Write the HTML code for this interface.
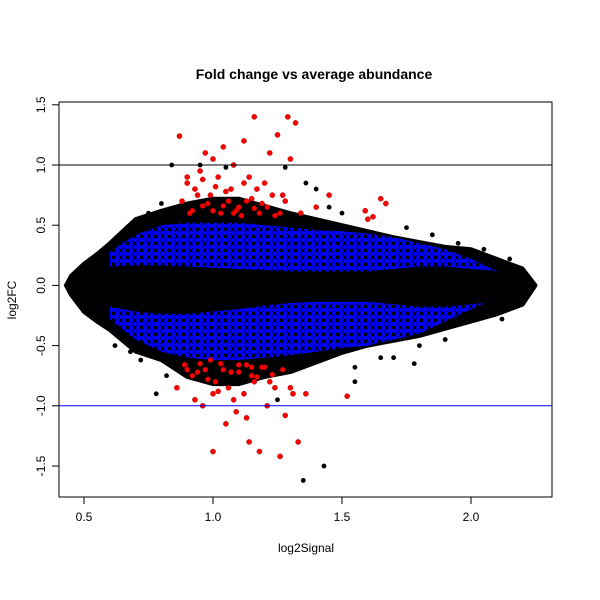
<!DOCTYPE html>
<html><head><meta charset="utf-8"><style>
body{margin:0;background:#fff}
svg{display:block;font-family:"Liberation Sans",sans-serif}
</style></head><body>
<svg id="chart" width="600" height="600" viewBox="0 0 600 600">
<defs>
<pattern id="bluedots" width="7" height="7" patternUnits="userSpaceOnUse">
<rect width="7" height="7" fill="#000"/>
<circle cx="1.8" cy="1.8" r="2.3" fill="#0000ff"/>
<circle cx="5.3" cy="5.3" r="2.3" fill="#0000ff"/>
<circle cx="5.3" cy="1.5" r="1.6" fill="#0000ff"/>
</pattern>
</defs>
<text x="314" y="79" text-anchor="middle" font-size="14" font-weight="bold">Fold change vs average abundance</text>
<text x="306" y="552" text-anchor="middle" font-size="12">log2Signal</text>
<text transform="translate(16,300) rotate(-90)" text-anchor="middle" font-size="12">log2FC</text>
<g id="plot"></g>
<g id="axes"></g>
</svg>
<script>
const envX=[0.43,0.45,0.5,0.55,0.6,0.7,0.8,0.9,1.0,1.1,1.2,1.3,1.4,1.5,1.6,1.7,1.8,1.9,2.0,2.1,2.2,2.25];
const envUp=[0.0,0.08,0.18,0.26,0.35,0.55,0.62,0.68,0.72,0.72,0.66,0.6,0.55,0.5,0.45,0.4,0.36,0.32,0.3,0.22,0.14,0.0];
const envLo=[0.0,-0.08,-0.22,-0.3,-0.37,-0.55,-0.62,-0.76,-0.82,-0.82,-0.76,-0.72,-0.64,-0.56,-0.5,-0.46,-0.42,-0.36,-0.3,-0.24,-0.16,0.0];
const blueX=[0.6,0.7,0.8,0.9,1.0,1.1,1.2,1.3,1.4,1.5,1.6,1.7,1.8,1.9,2.0,2.1];
const blueUp=[0.28,0.42,0.5,0.52,0.52,0.52,0.5,0.48,0.46,0.45,0.43,0.4,0.35,0.3,0.22,0.12];
const blueLo=[-0.28,-0.45,-0.55,-0.6,-0.62,-0.62,-0.6,-0.58,-0.55,-0.52,-0.5,-0.45,-0.4,-0.3,-0.2,-0.1];
const coreX=[0.5,0.6,0.7,0.8,0.9,1.0,1.1,1.2,1.3,1.4,1.5,1.6,1.7,1.8,1.9,2.0,2.1,2.2];
const coreUp=[0.1,0.14,0.15,0.15,0.14,0.13,0.12,0.11,0.1,0.1,0.1,0.1,0.12,0.14,0.14,0.12,0.1,0.08];
const coreLo=[-0.1,-0.16,-0.2,-0.22,-0.22,-0.2,-0.18,-0.15,-0.13,-0.12,-0.12,-0.12,-0.14,-0.16,-0.16,-0.14,-0.12,-0.08];
const redX=[0.87,0.9,0.93,0.95,0.97,0.99,1.0,1.02,1.04,1.06,1.08,1.1,1.12,1.14,1.16,1.18,1.2,1.22,1.25,1.27,1.29,1.3,1.32,0.92,0.98,1.03,1.07,1.11,1.15,1.21,1.26,1.59,1.62,1.65,1.67,1.6,
 0.88,0.91,0.94,0.96,1.01,1.05,1.09,1.13,1.17,1.19,1.23,0.9,0.96,1.0,1.04,1.08,1.12,1.16,1.24,1.28,1.34,1.4,1.45,
 0.86,0.9,0.93,0.96,0.98,1.0,1.02,1.05,1.07,1.09,1.12,1.14,1.16,1.18,1.21,1.24,1.26,1.28,1.31,1.33,0.95,0.99,1.04,1.1,1.15,1.2,1.27,1.36,1.52,1.13,
 0.89,0.92,0.97,1.01,1.03,1.06,1.1,1.13,1.17,1.19,1.22,0.94,1.0,1.08,1.15,1.23,1.3];
const redY=[1.24,0.85,0.8,0.95,1.1,0.75,1.05,0.9,1.15,0.7,1.0,0.65,1.2,0.9,1.4,0.6,0.85,1.1,1.25,0.75,1.4,1.05,1.35,0.62,0.68,0.6,0.8,0.58,0.72,0.65,0.6,0.62,0.57,0.72,0.68,0.55,
 0.7,0.6,0.75,0.66,0.82,0.78,0.62,0.7,0.8,0.68,0.75,0.9,0.88,0.62,0.66,0.6,0.85,0.64,0.58,0.7,0.6,0.65,0.75,
 -0.85,-0.7,-0.95,-1.0,-0.78,-1.38,-0.88,-1.15,-0.72,-1.05,-0.9,-1.3,-0.8,-1.38,-1.0,-0.85,-1.42,-1.08,-0.9,-1.3,-0.65,-0.62,-0.7,-0.66,-0.75,-0.68,-0.7,-0.9,-0.92,-1.1,
 -0.66,-0.75,-0.7,-0.8,-0.65,-0.85,-0.72,-0.66,-0.76,-0.68,-0.8,-0.72,-0.9,-0.95,-0.68,-0.74,-0.85];
const outX=[0.84,0.95,1.05,1.28,1.36,1.4,1.43,1.35,1.7,1.78,0.78,1.25,0.62,1.55,0.75,0.7,0.66,0.8,1.45,1.5,1.6,1.75,1.85,1.95,2.05,2.15,2.12,1.9,1.8,0.72,0.68,0.82,1.65,1.55];
const outY=[1.0,1.0,0.98,0.98,0.85,0.8,-1.5,-1.62,-0.6,-0.65,-0.9,-0.95,-0.5,-0.8,0.6,0.5,0.42,0.68,0.65,0.6,0.55,0.48,0.42,0.35,0.3,0.22,-0.28,-0.45,-0.5,-0.62,-0.55,-0.75,-0.6,-0.68];
const xTicks=[0.5,1.0,1.5,2.0];
const yTicks=[-1.5,-1.0,-0.5,0.0,0.5,1.0,1.5];

const L=59,R=552,T=102,B=497;
const xs=v=>213+(v-1)*258;
const ys=v=>285.4-v*120.4;
const NS='http://www.w3.org/2000/svg';
const plot=document.getElementById('plot'),axes=document.getElementById('axes');
function mk(tag,attrs,parent){const e=document.createElementNS(NS,tag);for(const k in attrs)e.setAttribute(k,attrs[k]);parent.appendChild(e);return e;}
function band(x,up,lo,fill,name){
  let pts=x.map((v,i)=>xs(v)+','+ys(up[i]));
  for(let i=x.length-1;i>=0;i--)pts.push(xs(x[i])+','+ys(lo[i]));
  const p=mk('polygon',{points:pts.join(' '),fill:fill,stroke:fill==='#000'?'#000':'none','stroke-width':4,'stroke-linejoin':'round'},plot);
  
  
}
band(envX,envUp,envLo,'#000','black-point-cloud');
band(blueX,blueUp,blueLo,'url(#bluedots)','blue-point-cloud');
band(coreX,coreUp,coreLo,'#000','black-dense-core');
outX.forEach((v,i)=>{
  const c=mk('circle',{cx:xs(v),cy:ys(outY[i]),r:2.4,fill:'#000'},plot);
  
  
});
redX.forEach((v,i)=>{
  const c=mk('circle',{cx:xs(v),cy:ys(redY[i]),r:2.6,fill:'#ff0000',stroke:'#900','stroke-width':0.4},plot);
  
  
});
const h1=mk('line',{x1:L,x2:R,y1:ys(1),y2:ys(1),stroke:'#000','stroke-width':1},plot);


const h2=mk('line',{x1:L,x2:R,y1:ys(-1),y2:ys(-1),stroke:'#0000ff','stroke-width':1},plot);


const frame=mk('rect',{x:L,y:T,width:R-L,height:B-T,fill:'none',stroke:'#000','stroke-width':1},axes);


xTicks.forEach(t=>{
  mk('line',{x1:xs(t),x2:xs(t),y1:B,y2:B+7,stroke:'#000'},axes);
  const tx=mk('text',{x:xs(t),y:B+24,'text-anchor':'middle','font-size':12},axes);
  tx.textContent=t.toFixed(1);
  
  
});
yTicks.forEach(t=>{
  mk('line',{x1:L-7,x2:L,y1:ys(t),y2:ys(t),stroke:'#000'},axes);
  const tx=mk('text',{transform:`translate(${L-14},${ys(t)}) rotate(-90)`,'text-anchor':'middle','font-size':12},axes);
  tx.textContent=t.toFixed(1);
  
  
});
</script>
</body></html>
